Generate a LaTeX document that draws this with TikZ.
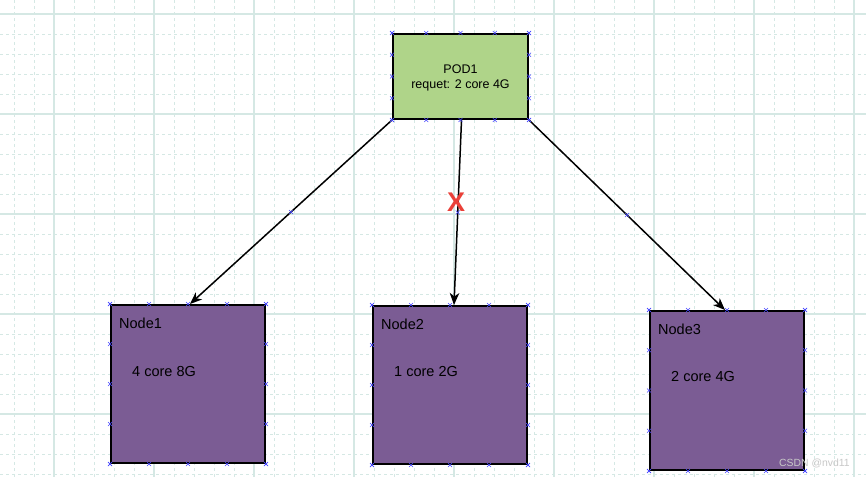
\documentclass[tikz,border=0pt]{standalone}
\usepackage{fontspec}
\setmainfont{Liberation Sans}
\usetikzlibrary{arrows.meta,calc}

\definecolor{gridc}{RGB}{213,232,228}
\definecolor{podfill}{RGB}{175,212,137}
\definecolor{hostfill}{RGB}{123,92,148}
\definecolor{ptblue}{RGB}{70,70,255}
\definecolor{xred}{RGB}{234,64,56}
\definecolor{wmark}{RGB}{200,200,200}

\tikzset{
  minorgrid/.style={gridc, line width=0.9pt, dash pattern=on 3pt off 3pt},
  majorgrid/.style={gridc, line width=1.2pt},
  podbox/.style={draw=black, line width=2pt, fill=podfill, minimum width=135pt, minimum height=85pt, inner sep=0pt},
  podtxt/.style={inner sep=0pt, align=center, font=\fontsize{12.5}{15.5}\selectfont},
  hostbox/.style={draw=black, line width=2pt, fill=hostfill, minimum width=154pt, minimum height=158pt, inner sep=0pt},
  lbl/.style={anchor=base west, inner sep=0pt, font=\fontsize{14.5}{17}\selectfont},
  conn/.style={line width=1.5pt, -{Stealth[length=12pt,width=9.5pt,inset=3.5pt]}},
  pt/.style={draw=ptblue, line width=0.5pt},
}

\begin{document}
\begin{tikzpicture}[x=1pt, y=-1pt]
\useasboundingbox (0,0) rectangle (866,477);
\fill[white] (0,0) rectangle (866,477);
% сетка
\foreach \x in {14,34,...,866} \draw[minorgrid] (\x,0) -- (\x,477);
\foreach \y in {14,34,...,477} \draw[minorgrid] (0,\y) -- (866,\y);
\foreach \x in {54,154,...,866} \draw[majorgrid] (\x,0) -- (\x,477);
\foreach \y in {14,114,...,477} \draw[majorgrid] (0,\y) -- (866,\y);
% блоки
\node[podbox] (pod) at (460.5,76.5) {};
\node[podtxt] (podtxt) at ($(pod)+(0,1.5)$) {POD1\\requet: 2 core 4G};
\node[hostbox] (n1) at (188,384) {};
\node[hostbox] (n2) at (450,385) {};
\node[hostbox, minimum height=159pt] (n3) at (727,390.5) {};
% подписи
\node[lbl] (n1name) at (119,328) {Node1};
\node[lbl] (n1res) at (132,376) {4 core 8G};
\node[lbl] (n2name) at (381,329) {Node2};
\node[lbl] (n2res) at (394,376) {1 core 2G};
\node[lbl] (n3name) at (658,334) {Node3};
\node[lbl] (n3res) at (671,381) {2 core 4G};
% стрелки
\draw[conn] (pod.south west) -- coordinate[pos=.5] (m1) ($(n1.north)+(2,0)$);
\draw[conn] ($(pod.south)+(1,0)$) -- coordinate[pos=.5] (m2) ($(n2.north)+(4,0)$);
\draw[conn] (pod.south east) -- coordinate[pos=.5] (m3) ($(n3.north)+(-2,0)$);
% точки
\foreach \b in {pod,n1,n2,n3} {
  \foreach \t in {0,0.25,0.5,0.75,1} {
    \draw[pt] ($(\b.north west)!\t!(\b.north east)$) +(-2,-2) -- +(2,2) +(-2,2) -- +(2,-2);
    \draw[pt] ($(\b.south west)!\t!(\b.south east)$) +(-2,-2) -- +(2,2) +(-2,2) -- +(2,-2);
    \draw[pt] ($(\b.north west)!\t!(\b.south west)$) +(-2,-2) -- +(2,2) +(-2,2) -- +(2,-2);
    \draw[pt] ($(\b.north east)!\t!(\b.south east)$) +(-2,-2) -- +(2,2) +(-2,2) -- +(2,-2);
  }
}
\foreach \m in {m1,m2,m3} \draw[pt] (\m) +(-2,-2) -- +(2,2) +(-2,2) -- +(2,-2);
% крестик
\node[text=xred, inner sep=0pt, font=\bfseries\fontsize{27}{27}\selectfont] (nofit) at (456,202) {X};
% водяной знак
\node[text=wmark, anchor=base west, inner sep=0pt, font=\fontsize{10.4}{12}\selectfont] (wm) at (779,466) {CSDN @nvd11};
\end{tikzpicture}
\end{document}
